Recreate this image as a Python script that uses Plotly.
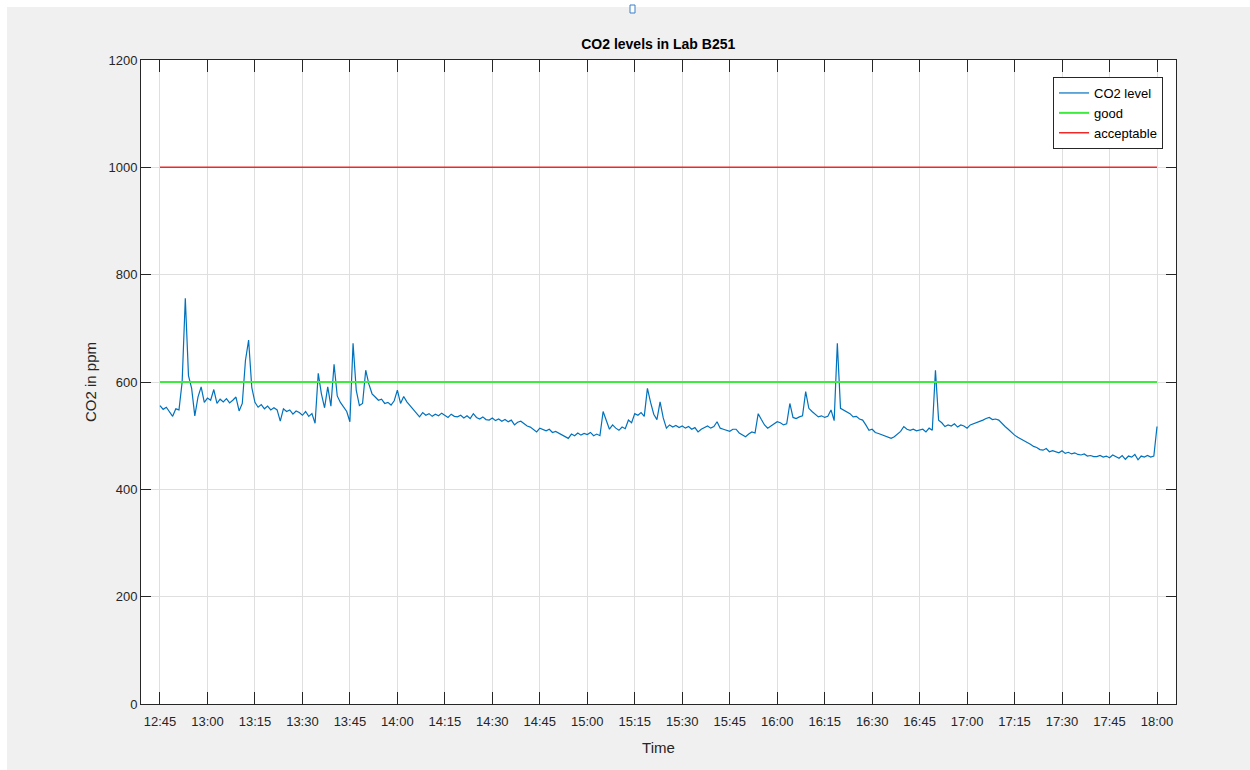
import pandas as pd
import plotly.graph_objects as go

# ---- data (CO2 ppm, one reading per minute from 12:45 to 18:00) ----
co2_ppm = [
    556, 549, 553, 545, 536, 550, 548, 600, 756, 612,
    588, 537, 572, 591, 562, 570, 566, 586, 560, 568,
    563, 569, 561, 566, 572, 546, 560, 640, 678, 590,
    562, 553, 558, 550, 555, 548, 552, 548, 527, 550,
    545, 548, 540, 546, 543, 538, 545, 536, 541, 523,
    616, 578, 552, 591, 555, 633, 574, 562, 554, 545,
    526, 672, 585, 556, 560, 622, 596, 578, 572, 566,
    568, 560, 562, 557, 565, 585, 560, 573, 563, 556,
    550, 541, 535, 543, 538, 541, 536, 540, 537, 542,
    538, 534, 540, 536, 535, 538, 533, 537, 532, 541,
    534, 531, 535, 530, 529, 533, 528, 531, 527, 530,
    526, 529, 520, 525, 527, 522, 518, 516, 512, 507,
    514, 511, 509, 512, 506, 508, 505, 502, 499, 495,
    503, 500, 505, 501, 504, 502, 506, 500, 503, 500,
    545, 528, 512, 520, 514, 510, 516, 513, 529, 524,
    541, 538, 543, 536, 588, 562, 540, 530, 563, 533,
    514, 520, 516, 519, 515, 518, 514, 517, 512, 515,
    507, 512, 515, 518, 514, 517, 526, 514, 512, 510,
    508, 512, 512, 505, 502, 498, 503, 507, 505, 541,
    530, 520, 514, 518, 522, 526, 524, 520, 522, 560,
    534, 532, 535, 537, 582, 551, 545, 540, 535, 537,
    534, 536, 548, 528, 672, 551, 548, 545, 541, 535,
    536, 531, 529, 520, 510, 512, 506, 504, 502, 499,
    497, 495, 498, 503, 508, 517, 512, 510, 512, 509,
    510, 512, 507, 514, 510, 622, 529, 524, 517, 520,
    518, 522, 516, 520, 518, 514, 520, 522, 525, 527,
    529, 532, 534, 530, 531, 529, 522, 517, 512, 506,
    501, 497, 494, 490, 487, 484, 480, 478, 474, 473,
    476, 470, 472, 470, 468, 472, 467, 469, 466, 468,
    465, 464, 466, 462, 463, 461, 461, 463, 460, 462,
    459, 464, 461, 458, 463, 456, 462, 460, 465, 455,
    462, 460, 463, 460, 462, 517,
]
start_time = "2020-01-01 12:45"
times = pd.date_range(start_time, periods=len(co2_ppm), freq="1min")

good_level = 600
acceptable_level = 1000

x_range = ["2020-01-01 12:39", "2020-01-01 18:06"]
y_ticks = [0, 200, 400, 600, 800, 1000, 1200]

FONT = "Liberation Sans, Arial, Helvetica, sans-serif"
AXIS_COLOR = "#262626"
GRID = "#DFDFDF"

fig = go.Figure()
fig.add_trace(go.Scatter(x=times, y=co2_ppm, mode="lines", name="CO2 level",
                         line=dict(color="#0072BD", width=1.2)))
fig.add_trace(go.Scatter(x=[times[0], times[-1]], y=[good_level, good_level],
                         mode="lines", name="good",
                         line=dict(color="rgb(60,235,60)", width=2)))
fig.add_trace(go.Scatter(x=[times[0], times[-1]], y=[acceptable_level, acceptable_level],
                         mode="lines", name="acceptable",
                         line=dict(color="rgb(240,40,40)", width=1.5)))

# plot area in pixels: x 141..1176, y 60..704
L, R, T, B = 141, 1176, 60, 704
W, H = R - L, B - T
def px(x):
    return (x - L) / W
def py(y):
    return (B - y) / H

fig.update_layout(
    width=1250, height=770,
    margin=dict(l=L, r=1250 - R, t=T, b=770 - B, autoexpand=False),
    paper_bgcolor="#F0F0F0",
    plot_bgcolor="white",
    font=dict(family=FONT, color=AXIS_COLOR, size=13),
    title=dict(text="<b>CO2 levels in Lab B251</b>", x=0.5266, xanchor="center",
               y=1 - 44 / 770, yanchor="middle",
               font=dict(family=FONT, size=14, color="#000000")),
    showlegend=True,
    legend=dict(x=px(1163), y=py(77), xanchor="right", yanchor="top",
                bgcolor="white", bordercolor=AXIS_COLOR, borderwidth=1,
                font=dict(family=FONT, size=13, color="#000000"),
                tracegroupgap=0),
    xaxis=dict(
        type="date", range=x_range,
        tick0="2020-01-01 12:45", dtick=15 * 60 * 1000, tickformat="%H:%M",
        ticks="inside", ticklen=12, tickcolor=AXIS_COLOR, tickwidth=1,
        showline=True, linecolor=AXIS_COLOR, linewidth=1, mirror="ticks",
        showgrid=True, gridcolor=GRID, gridwidth=1, zeroline=False,
        ticklabelstandoff=5,
        tickfont=dict(family=FONT, size=13, color=AXIS_COLOR),
        title=dict(text="Time", font=dict(family=FONT, size=15, color=AXIS_COLOR),
                   standoff=14),
    ),
    yaxis=dict(
        range=[0, 1200], tickvals=y_ticks,
        ticks="inside", ticklen=10, tickcolor=AXIS_COLOR, tickwidth=1,
        showline=True, linecolor=AXIS_COLOR, linewidth=1, mirror="ticks",
        showgrid=True, gridcolor=GRID, gridwidth=1, zeroline=False,
        tickfont=dict(family=FONT, size=13, color=AXIS_COLOR),
        title=dict(text="CO2 in ppm", font=dict(family=FONT, size=15, color=AXIS_COLOR),
                   standoff=8),
    ),
    shapes=[
        # white outer border at top and left of the window
        dict(type="rect", xref="paper", yref="paper", x0=px(0), x1=px(1250),
             y0=py(7), y1=py(0), fillcolor="white", line=dict(width=0), layer="below"),
        dict(type="rect", xref="paper", yref="paper", x0=px(0), x1=px(7),
             y0=py(770), y1=py(0), fillcolor="white", line=dict(width=0), layer="below"),
        # small blue marker at top centre
        dict(type="rect", xref="paper", yref="paper", x0=px(630), x1=px(635),
             y0=py(13), y1=py(5), fillcolor="white",
             line=dict(color="#3C7FC8", width=1)),
    ],
)

fig.write_html("out.html")
